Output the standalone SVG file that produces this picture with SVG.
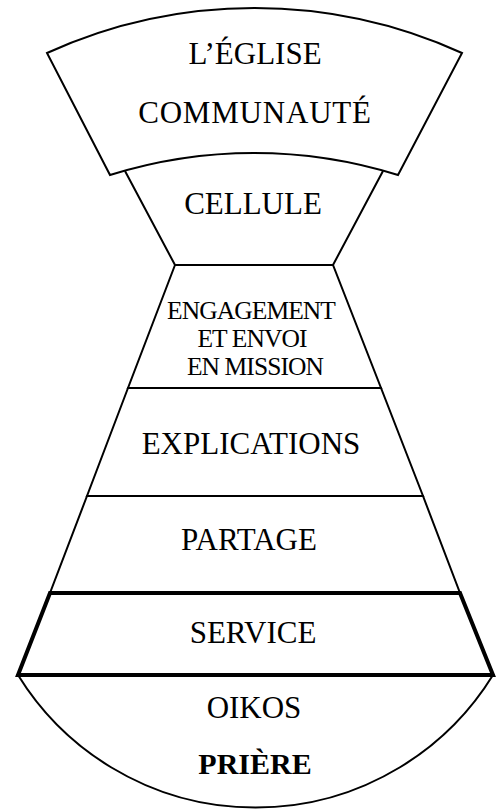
<svg xmlns="http://www.w3.org/2000/svg" width="499" height="810" viewBox="0 0 499 810">
<style>
.s{fill:#fff;stroke:#000;stroke-width:2;stroke-linejoin:miter}
.k{fill:#fff;stroke:#000;stroke-width:4;stroke-linejoin:miter}
.t{font-family:"Liberation Serif","Times New Roman",serif;font-size:31px;fill:#000;text-anchor:middle}
.m{font-size:25.5px;letter-spacing:-0.9px}
.b{font-weight:bold;font-size:30px}
</style>
<rect width="499" height="810" fill="#fff"/>
<g id="cellule">
<path class="s" d="M125,171 L175,265 L333,265 L383,171"/>
<text class="t" x="253" y="214">CELLULE</text>
</g>
<g id="eglise">
<path class="s" d="M47,53 A501,501 0 0 1 462,53 L398,175 A482,482 0 0 0 110,175 Z"/>
<text class="t" x="255" y="64">L’ÉGLISE</text>
<text class="t" x="255" y="123" letter-spacing="0.8">COMMUNAUTÉ</text>
</g>
<g id="engagement">
<path class="s" d="M175,265 L128,388 L381,388 L333,265 Z"/>
<text class="t m" x="251" y="319">ENGAGEMENT</text>
<text class="t m" x="252" y="347">ET ENVOI</text>
<text class="t m" x="255" y="375">EN MISSION</text>
</g>
<g id="explications">
<path class="s" d="M128,388 L87,496 L423,496 L381,388 Z"/>
<text class="t" x="251" y="454">EXPLICATIONS</text>
</g>
<g id="partage">
<path class="s" d="M87,496 L50,593 L460,593 L423,496 Z"/>
<text class="t" x="249" y="550">PARTAGE</text>
</g>
<g id="oikos">
<path class="s" d="M18,675 A279,279 0 0 0 493,675 Z"/>
<text class="t" x="254" y="718">OIKOS</text>
<text class="t b" x="255" y="774">PRIÈRE</text>
</g>
<g id="service">
<path class="k" d="M50,593 L18,675 L493,675 L460,593 Z"/>
<text class="t" x="253" y="643">SERVICE</text>
</g>
<g id="connectors"></g>
</svg>
